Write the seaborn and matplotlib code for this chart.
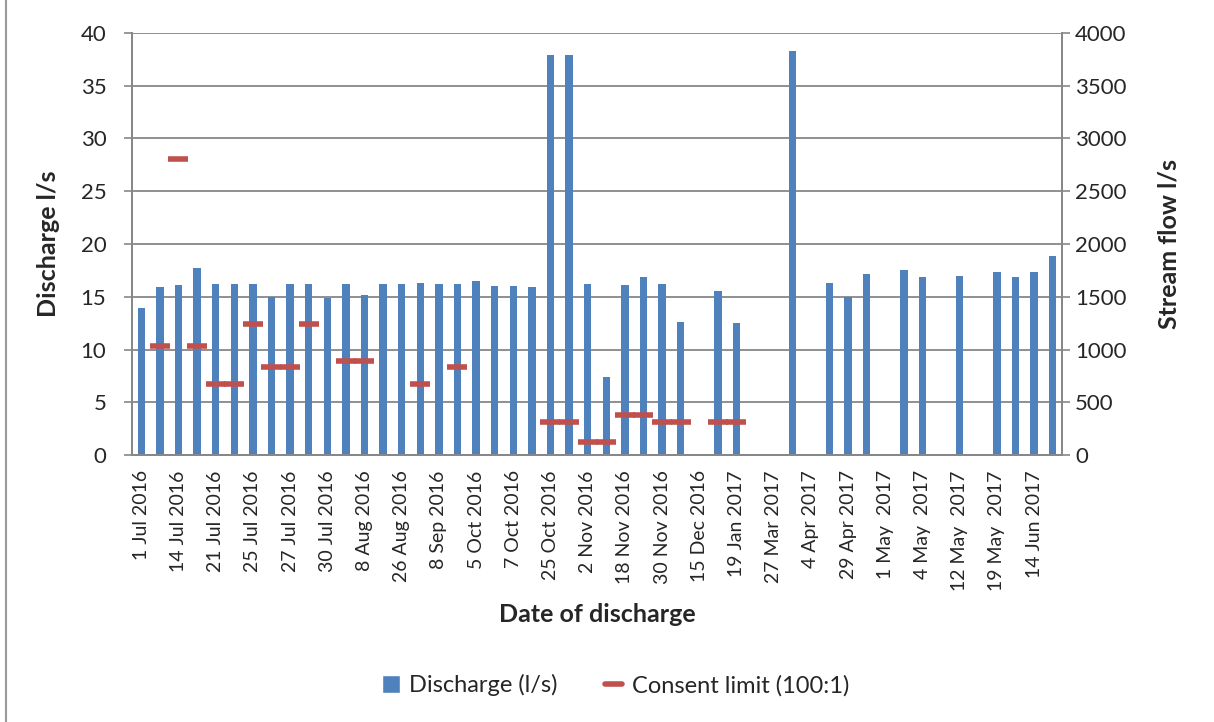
import numpy as np
import pandas as pd
import matplotlib.pyplot as plt
import seaborn as sns
from matplotlib.patches import Patch
from matplotlib.lines import Line2D

sns.set_style('white')
plt.rcParams['font.family'] = ['Lato', 'DejaVu Sans']

# labels shown on every other category (50 sampling slots in total)
date_labels = ['1 Jul 2016', '14 Jul 2016', '21 Jul 2016', '25 Jul 2016', '27 Jul 2016',
               '30 Jul 2016', '8 Aug 2016', '26 Aug 2016', '8 Sep 2016', '5 Oct 2016',
               '7 Oct 2016', '25 Oct 2016', '2 Nov 2016', '18 Nov 2016', '30 Nov 2016',
               '15 Dec 2016', '19 Jan 2017', '27 Mar 2017', '4 Apr 2017', '29 Apr 2017',
               '1 May  2017', '4 May  2017', '12 May  2017', '19 May  2017', '14 Jun 2017']

nan = np.nan
discharge = [13.9, 15.9, 16.15, 17.75, 16.2, 16.2, 16.2, 15.0, 16.2, 16.2,
             14.85, 16.2, 15.2, 16.2, 16.2, 16.3, 16.2, 16.2, 16.45, 16.05,
             16.05, 15.95, 37.9, 37.9, 16.2, 7.35, 16.1, 16.9, 16.2, 12.6,
             nan, 15.5, 12.55, nan, nan, 38.3, nan, 16.3, 15.0, 17.15,
             nan, 17.5, 16.85, nan, 17.0, nan, 17.3, 16.9, 17.35, 18.9]

consent = [nan, 10.3, 28.05, 10.3, 6.75, 6.75, 12.45, 8.35, 8.35, 12.45,
           nan, 8.95, 8.95, nan, nan, 6.75, nan, 8.35, nan, nan,
           nan, nan, 3.15, 3.15, 1.25, 1.25, 3.75, 3.75, 3.15, 3.15,
           nan, 3.15, 3.15, nan, nan, nan, nan, nan, nan, nan,
           nan, nan, nan, nan, nan, nan, nan, nan, nan, nan]

df = pd.DataFrame({'slot': range(len(discharge)), 'discharge': discharge, 'consent': consent})

blue = '#4F81BD'
red = '#C0504D'
grey = '#878787'

fig = plt.figure(figsize=(12.14, 7.22), dpi=100)
ax = fig.add_axes([0.1087, 0.3698, 0.7661, 0.5845])
ax2 = ax.twinx()

sns.barplot(data=df, x='slot', y='discharge', order=list(range(len(discharge))),
            color=blue, saturation=1, width=0.4, errorbar=None, linewidth=0, ax=ax)
sns.scatterplot(data=df.dropna(subset=['consent']), x='slot', y='consent', marker='_',
                s=215, linewidth=4, color=red, ax=ax, zorder=3, legend=False)

ax.set_xlim(-0.5, len(discharge) - 0.5)
ax.set_ylim(0, 40)
ax.set_yticks(range(0, 41, 5))
ax2.set_ylim(0, 4000)
ax2.set_yticks(range(0, 4001, 500))

ax.grid(axis='y', color=grey, lw=1.3)
ax.set_axisbelow(True)
for a in (ax, ax2):
    a.spines['top'].set_visible(False)
    for s in ('left', 'right', 'bottom'):
        a.spines[s].set_color(grey)
        a.spines[s].set_linewidth(1.3)

# tick marks between categories, labels on every other category
ax.set_xticks(np.arange(-0.5, len(discharge), 1))
ax.set_xticklabels([])
ax.set_xticks(np.arange(0, len(discharge), 2), minor=True)
ax.set_xticklabels(date_labels, minor=True, rotation=90, fontsize=14)
ax.tick_params(axis='x', which='major', length=4, width=1.2, color=grey)
ax.tick_params(axis='x', which='minor', length=0, pad=11)
ax.tick_params(axis='y', length=6, width=1.2, color=grey, labelsize=16, pad=12.5)
ax2.tick_params(axis='y', length=6, width=1.2, color=grey, labelsize=16, pad=3.5)

ax.set_xlabel('Date of discharge', fontsize=18, fontweight='bold')
ax.xaxis.set_label_coords(0.5, -0.351)
ax.set_ylabel('Discharge l/s', fontsize=18, fontweight='bold')
ax.yaxis.set_label_coords(-0.077, 0.5)
ax2.set_ylabel('Stream flow l/s', fontsize=18, fontweight='bold')
ax2.yaxis.set_label_coords(1.103, 0.5)

handles = [Patch(facecolor=blue), Line2D([], [], color=red, lw=4)]
fig.legend(handles, ['Discharge (l/s)', 'Consent limit (100:1)'], loc='center',
           bbox_to_anchor=(0.507, 0.051), ncol=2, frameon=False, fontsize=17,
           handlelength=0.75, handleheight=0.75, handletextpad=0.4, columnspacing=2.0)

fig.add_artist(Line2D([0.005, 0.005], [0, 1], transform=fig.transFigure, color='#999999', lw=1.5))

fig.savefig('out.png', dpi=100)
